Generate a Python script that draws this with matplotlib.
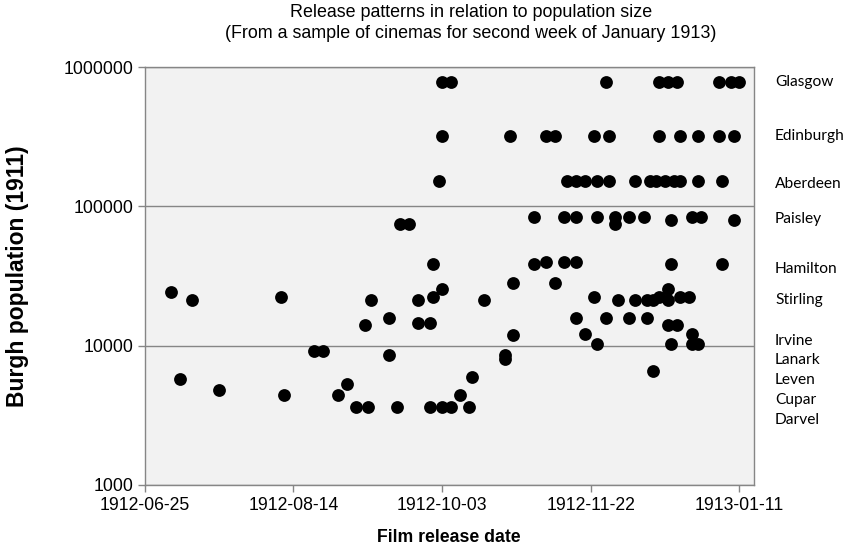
import matplotlib
matplotlib.use("Agg")
import matplotlib.pyplot as plt
import matplotlib.dates as mdates
from matplotlib.ticker import FixedLocator, FuncFormatter
import pandas as pd

# release date of each film vs population of the burgh showing it
release_dates = [
    # Glasgow
    "1912-10-03", "1912-10-06", "1912-11-27", "1912-12-15", "1912-12-18", "1912-12-21",
    "1913-01-04", "1913-01-08", "1913-01-11",
    # Edinburgh
    "1912-10-03", "1912-10-26", "1912-11-07", "1912-11-10", "1912-11-23", "1912-11-28",
    "1912-12-15", "1912-12-22", "1912-12-28", "1913-01-04", "1913-01-09",
    # Aberdeen
    "1912-10-02", "1912-11-14", "1912-11-17", "1912-11-20", "1912-11-24", "1912-11-28",
    "1912-12-07", "1912-12-12", "1912-12-14", "1912-12-17", "1912-12-20", "1912-12-22",
    "1912-12-28", "1913-01-05",
    # Paisley and near it
    "1912-11-03", "1912-11-13", "1912-11-17", "1912-11-24", "1912-11-30", "1912-12-05",
    "1912-12-10", "1912-12-26", "1912-12-29",
    "1912-12-19", "1913-01-09",
    "1912-09-19", "1912-09-22", "1912-11-30",
    # Hamilton and near it
    "1912-09-30", "1912-11-03", "1912-12-19", "1913-01-05",
    "1912-11-07", "1912-11-13", "1912-11-17",
    # 20000 - 30000
    "1912-10-27", "1912-11-10",
    "1912-10-03", "1912-12-18",
    "1912-07-04",
    "1912-08-10", "1912-09-30", "1912-11-23", "1912-12-22", "1912-12-25", "1912-12-15",
    "1912-07-11", "1912-09-09", "1912-09-25", "1912-10-17", "1912-12-01", "1912-12-07",
    "1912-12-11", "1912-12-13", "1912-12-18",
    # 10000 - 20000
    "1912-09-15", "1912-11-17", "1912-11-27", "1912-12-05", "1912-12-11",
    "1912-09-25", "1912-09-29",
    "1912-09-07", "1912-12-18", "1912-12-21",
    "1912-11-20", "1912-12-26",
    "1912-10-27",
    "1912-11-24", "1912-12-19", "1912-12-26", "1912-12-28",
    # below 10000
    "1912-08-21", "1912-08-24",
    "1912-09-15",
    "1912-10-24", "1912-10-24",
    "1912-12-13",
    "1912-10-13",
    "1912-07-07",
    "1912-09-01",
    "1912-07-20",
    "1912-08-11", "1912-08-29", "1912-10-09",
    "1912-09-04", "1912-09-08", "1912-09-18", "1912-09-29", "1912-10-03", "1912-10-06",
    "1912-10-12",
]

population = (
    [784000] * 9
    + [320000] * 11
    + [152000] * 14
    + [84000] * 9 + [80000] * 2 + [75000] * 3
    + [38500] * 4 + [40000] * 3
    + [28000] * 2 + [25400] * 2 + [24300] + [22200] * 6 + [21100] * 9
    + [15800] * 5 + [14500] * 2 + [14100] * 3 + [12100] * 2 + [11900] + [10200] * 4
    + [9100] * 2 + [8600] + [8500, 8000] + [6600] + [5960] + [5780] + [5300] + [4820]
    + [4420] * 3 + [3620] * 7
)

town_names = ["Glasgow", "Edinburgh", "Aberdeen", "Paisley", "Hamilton", "Stirling",
              "Irvine", "Lanark", "Leven", "Cupar", "Darvel"]
town_label_pop = [780000, 320000, 144500, 81100, 35500, 21200, 10800, 7890, 5660, 4060, 2920]

tick_dates = ["1912-06-25", "1912-08-14", "1912-10-03", "1912-11-22", "1913-01-11"]

dates = pd.to_datetime(release_dates)

fig = plt.figure(figsize=(8.45, 5.51), dpi=100)
ax = fig.add_axes([0.1712, 0.1198, 0.7215, 0.7586])
ax.set_facecolor("#f2f2f2")

ax.scatter(dates, population, s=85, color="black", zorder=3, linewidths=0)

ax.set_yscale("log")
ax.set_ylim(1000, 1000000)
ax.yaxis.set_major_locator(FixedLocator([1000, 10000, 100000, 1000000]))
ax.yaxis.set_minor_locator(FixedLocator([]))
ax.yaxis.set_major_formatter(FuncFormatter(lambda v, p: "%d" % v))
ax.grid(axis="y", color="#868686", linewidth=1, zorder=1)

x0 = mdates.date2num(pd.Timestamp("1912-06-25"))
ax.set_xlim(x0, x0 + 205)
ax.set_xticks(mdates.date2num(pd.to_datetime(tick_dates)))
ax.set_xticklabels(tick_dates)

for side in ax.spines.values():
    side.set_color("#868686")
    side.set_linewidth(1)
ax.tick_params(axis="both", colors="#868686", length=5, width=1, direction="out",
               labelsize=12.7, labelcolor="black")
ax.tick_params(axis="x", pad=4)
ax.tick_params(axis="y", pad=3)
for lab in ax.get_xticklabels() + ax.get_yticklabels():
    lab.set_family("Liberation Sans")

for name, pop in zip(town_names, town_label_pop):
    ax.text(1.034, pop, name, transform=ax.get_yaxis_transform(), fontsize=11.2,
            family="Lato", va="center", ha="left")

fig.text(0.557, 0.992, "Release patterns in relation to population size\n"
         "(From a sample of cinemas for second week of January 1913)",
         ha="center", va="top", fontsize=12.9, family="Liberation Sans", linespacing=1.3)
fig.text(449 / 845, 1 - 538 / 551, "Film release date", fontsize=12.7, fontweight="bold",
         family="Liberation Sans", ha="center", va="center")
fig.text(18 / 845, 0.498, "Burgh population (1911)", fontsize=16.5, fontweight="bold",
         family="Liberation Sans", ha="center", va="center", rotation=90)

fig.savefig("out.png", dpi=100)
